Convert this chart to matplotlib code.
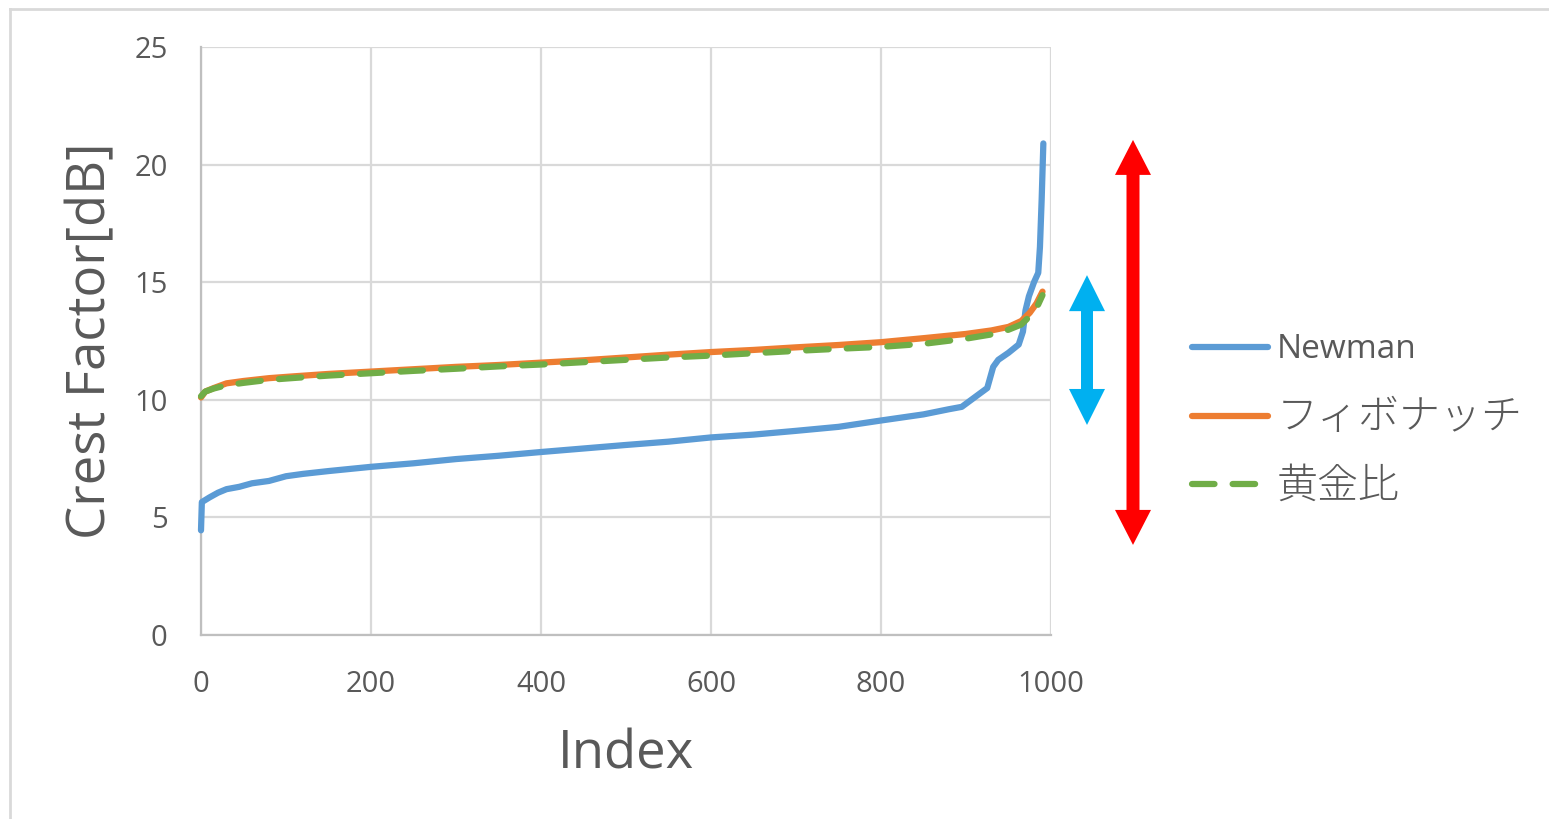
import matplotlib
matplotlib.use("Agg")
import matplotlib.pyplot as plt
from matplotlib.lines import Line2D
from matplotlib.patches import Polygon
import matplotlib.transforms as mtransforms

# Sorted crest factor of each phase set
newman_idx = [0, 1, 10, 20, 30, 45, 60, 80, 100, 120, 150, 200, 250, 300, 350, 400,
              450, 500, 550, 600, 650, 700, 750, 800, 850, 880, 895, 910, 925, 932,
              938, 950, 962, 967, 970, 974, 980, 985, 987, 989, 991]
newman_cf = [4.45, 5.65, 5.85, 6.05, 6.2, 6.3, 6.45, 6.55, 6.75, 6.85, 6.97, 7.15, 7.3,
             7.48, 7.62, 7.78, 7.93, 8.08, 8.22, 8.4, 8.52, 8.68, 8.85, 9.12, 9.38, 9.6,
             9.7, 10.1, 10.5, 11.4, 11.7, 12.0, 12.35, 12.9, 13.8, 14.4, 15.0, 15.4,
             16.5, 18.5, 20.9]

fib_idx = [0, 5, 15, 30, 50, 80, 110, 150, 200, 250, 300, 350, 400, 450, 500, 550,
           600, 650, 700, 750, 800, 850, 900, 930, 950, 965, 975, 983, 990]
fib_cf = [10.1, 10.35, 10.5, 10.7, 10.8, 10.92, 11.0, 11.1, 11.2, 11.3, 11.4, 11.48,
          11.58, 11.68, 11.8, 11.92, 12.03, 12.12, 12.23, 12.33, 12.45, 12.62, 12.8,
          12.95, 13.1, 13.35, 13.7, 14.1, 14.6]

golden_idx = [0, 5, 15, 30, 50, 80, 110, 150, 200, 250, 300, 350, 400, 450, 500, 550,
              600, 650, 700, 750, 800, 850, 900, 930, 950, 965, 975, 983, 990]
golden_cf = [10.15, 10.35, 10.48, 10.62, 10.72, 10.85, 10.93, 11.03, 11.13, 11.23,
             11.32, 11.42, 11.5, 11.6, 11.7, 11.8, 11.88, 11.98, 12.08, 12.17, 12.25,
             12.38, 12.6, 12.78, 12.98, 13.2, 13.55, 13.9, 14.45]

series_names = ["Newman", "フィボナッチ", "黄金比"]
x_ticks = [0, 200, 400, 600, 800, 1000]
y_ticks = [0, 5, 10, 15, 20, 25]

# Range markers: (y bottom, y top) in dB
wide_range = (3.83, 21.05)
narrow_range = (8.93, 15.3)

BLUE = "#5B9BD5"
ORANGE = "#ED7D31"
GREEN = "#70AD47"
TEXT = "#595959"
GRID = "#D9D9D9"

W, H = 1549, 819
fig = plt.figure(figsize=(W / 100, H / 100), dpi=100)
fig.patch.set_facecolor("white")

ax = fig.add_axes([201 / W, 1 - 635 / H, 850 / W, 588 / H])
ax.set_xlim(0, 1000)
ax.set_ylim(0, 25)
ax.set_xticks(x_ticks)
ax.set_yticks(y_ticks)
ax.grid(True, color=GRID, lw=1.6)
ax.set_axisbelow(True)
for side in ("top", "right"):
    ax.spines[side].set_visible(False)
for side in ("left", "bottom"):
    ax.spines[side].set_color("#BFBFBF")
    ax.spines[side].set_linewidth(1.6)
ax.tick_params(length=0, labelsize=21, labelcolor=TEXT)
ax.tick_params(axis="y", pad=24)
ax.tick_params(axis="x", pad=25)
for lbl in ax.get_xticklabels() + ax.get_yticklabels():
    lbl.set_family("Open Sans")

ax.set_ylabel("Crest Factor[dB]", fontsize=38, color=TEXT, family="Open Sans")
ax.yaxis.set_label_coords(-0.097, 0.5)
ax.set_xlabel("Index", fontsize=38, color=TEXT, family="Open Sans")
ax.xaxis.set_label_coords(0.5, -0.158)

LW = 4.5
ax.plot(newman_idx, newman_cf, color=BLUE, lw=LW, solid_capstyle="round",
        solid_joinstyle="round", clip_on=False, zorder=3)
ax.plot(fib_idx, fib_cf, color=ORANGE, lw=LW, solid_capstyle="round",
        solid_joinstyle="round", clip_on=False, zorder=4)
ax.plot(golden_idx, golden_cf, color=GREEN, lw=LW, ls=(0, (3.6, 2.9)),
        dash_capstyle="round", clip_on=False, zorder=5)

# Legend drawn beside the plot
fam = ["Open Sans", "Noto Sans CJK JP"]
leg_rows = [(347, 358, 24, "normal"), (416, 429, 29.5, "light"), (484, 498, 29.5, "light")]
styles = [dict(color=BLUE, ls="-"), dict(color=ORANGE, ls="-"),
          dict(color=GREEN, ls=(0, (3.6, 2.9)))]
for name, (ly, by, fs, fw), st in zip(series_names, leg_rows, styles):
    fig.add_artist(Line2D([1192 / W, 1268 / W], [1 - ly / H, 1 - ly / H],
                          lw=LW, solid_capstyle="round", dash_capstyle="round", **st))
    fig.text(1277 / W, 1 - by / H, name, fontsize=fs, color=TEXT, family=fam,
             fontweight=fw, ha="left", va="baseline")

# Double-headed range arrows
blend = mtransforms.blended_transform_factory(ax.transAxes, ax.transData)


def double_arrow(xfrac, yr, color, shaft_hw, head_hw, head_len):
    x, yb = blend.transform((xfrac, yr[0]))
    _, yt = blend.transform((xfrac, yr[1]))
    pts = [
        (x, yt), (x + head_hw, yt - head_len), (x + shaft_hw, yt - head_len),
        (x + shaft_hw, yb + head_len), (x + head_hw, yb + head_len), (x, yb),
        (x - head_hw, yb + head_len), (x - shaft_hw, yb + head_len),
        (x - shaft_hw, yt - head_len), (x - head_hw, yt - head_len),
    ]
    pts = [(px / 100, py / 100) for px, py in pts]
    fig.add_artist(Polygon(pts, closed=True, facecolor=color, edgecolor="none",
                           transform=fig.dpi_scale_trans))


double_arrow((1133 - 201) / 850, wide_range, "#FF0000", 6.5, 18, 35)
double_arrow((1087 - 201) / 850, narrow_range, "#00B0F0", 6, 18, 36)

# Chart-area frame
fig.add_artist(Line2D([10 / W, 1], [1 - 9 / H, 1 - 9 / H], color=GRID, lw=2))
fig.add_artist(Line2D([10 / W, 10 / W], [0, 1 - 9 / H], color=GRID, lw=2))

fig.savefig("out.png", dpi=100, facecolor="white")
